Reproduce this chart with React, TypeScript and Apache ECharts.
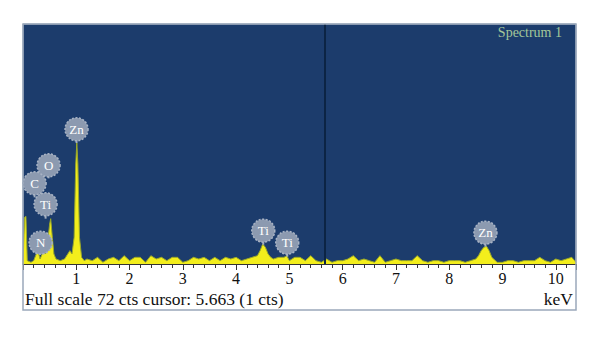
import React, { useEffect, useRef } from "react";
import * as echarts from "echarts";

// EDS spectrum: [keV, counts]
const spectrum: [number, number][] = [
  [0.0, 0], [0.03, 14], [0.055, 14.3], [0.08, 1], [0.15, 0.5], [0.2, 1], [0.25, 3], [0.28, 4],
  [0.32, 1.5], [0.36, 3], [0.39, 5.5], [0.42, 3], [0.46, 6], [0.5, 12], [0.52, 13.6], [0.55, 8],
  [0.58, 3], [0.62, 1.5], [0.7, 1], [0.78, 1.5], [0.84, 3], [0.88, 4], [0.92, 3], [0.96, 8],
  [0.99, 30], [1.01, 36.3], [1.03, 30], [1.06, 8], [1.1, 2], [1.15, 1], [1.2, 1.5], [1.3, 1],
  [1.4, 2], [1.5, 0.5], [1.6, 1.5], [1.7, 2], [1.8, 1], [1.9, 2.5], [2.0, 1], [2.1, 2],
  [2.2, 2], [2.3, 0.5], [2.4, 2.5], [2.5, 1.5], [2.6, 2], [2.7, 1], [2.8, 2], [2.9, 2],
  [3.0, 0.5], [3.1, 1], [3.2, 2], [3.3, 1.5], [3.4, 2], [3.5, 1], [3.6, 2], [3.7, 1],
  [3.8, 2], [3.9, 1.5], [4.0, 2], [4.1, 1], [4.2, 1.5], [4.3, 2], [4.4, 2.5], [4.45, 4],
  [4.5, 6], [4.55, 5], [4.6, 3], [4.65, 2], [4.7, 1.5], [4.8, 2], [4.9, 2], [4.95, 2.5],
  [5.0, 1], [5.1, 2], [5.2, 2], [5.3, 1], [5.4, 2.5], [5.5, 1], [5.6, 0.5], [5.7, 1.5],
  [5.8, 0.5], [5.9, 1], [6.0, 1], [6.1, 1.5], [6.2, 2.5], [6.3, 1], [6.4, 1.5], [6.5, 1],
  [6.6, 0.5], [6.7, 2.5], [6.8, 0.5], [6.9, 1], [7.0, 1.5], [7.1, 1], [7.2, 1], [7.3, 1],
  [7.4, 2.5], [7.5, 1], [7.6, 0.5], [7.7, 1], [7.8, 1], [7.9, 0.5], [8.0, 1], [8.1, 1],
  [8.2, 1], [8.3, 0.5], [8.4, 1], [8.5, 1.5], [8.55, 2.5], [8.6, 4], [8.65, 5], [8.7, 5.3],
  [8.75, 4], [8.8, 2], [8.9, 0.5], [9.0, 0.5], [9.1, 1], [9.2, 1], [9.3, 0.5], [9.4, 1],
  [9.5, 1], [9.6, 1], [9.7, 2], [9.8, 1], [9.9, 0.5], [10.0, 1.5], [10.1, 1], [10.2, 1.5],
  [10.3, 2], [10.38, 0.5],
];

const labelNames = ["C", "O", "Ti", "N", "Zn", "Ti", "Ti", "Zn"];
const labelKeV = [0.218, 0.48, 0.424, 0.33, 1.005, 4.51, 4.96, 8.68];
const labelCts = [24.2, 29.6, 17.9, 6.4, 40.4, 10.0, 6.4, 9.4];
const stemEndCts = [20, 25.7, 13.6, 4, 36.3, 5.8, 2.2, 5.2];

const cursorKeV = 5.663;
const xMin = 0;
const xMax = 10.38;
const yMax = 72;
const bottomText = "Full scale 72 cts cursor: 5.663 (1 cts)";
const spectrumTitle = "Spectrum 1";
const unitText = "keV";

const SERIF = '"Liberation Serif", "DejaVu Serif", serif';

export default function App() {
  const ref = useRef<HTMLDivElement>(null);
  useEffect(() => {
    if (!ref.current) return;
    const chart = echarts.init(ref.current, undefined, { renderer: "svg" });
    const labelData = labelNames.map((n, i) => [labelKeV[i], labelCts[i], stemEndCts[i], i]);
    chart.setOption({
      animation: false,
      backgroundColor: "#ffffff",
      grid: {
        left: 23,
        right: 24,
        top: 24,
        bottom: 73,
        show: true,
        backgroundColor: "#1c3c6c",
        borderColor: "#9aa8bb",
        borderWidth: 1,
      },
      xAxis: {
        type: "value",
        min: xMin,
        max: xMax,
        interval: 1,
        splitLine: { show: false },
        axisLine: { show: true, lineStyle: { color: "#333", width: 1 } },
        axisTick: { show: true, length: 6, lineStyle: { color: "#333" } },
        minorTick: { show: true, splitNumber: 5, length: 4, lineStyle: { color: "#333" } },
        axisLabel: {
          show: true,
          margin: 6,
          color: "#111",
          fontFamily: SERIF,
          fontSize: 16,
          lineHeight: 16,
          formatter: (v: number) => (v === 0 ? "" : String(v)),
          showMaxLabel: false,
        },
      },
      yAxis: {
        type: "value",
        min: 0,
        max: yMax,
        show: false,
        splitLine: { show: false },
      },
      graphic: [
        {
          type: "rect",
          shape: { x: 23, y: 24, width: 553, height: 286 },
          style: { fill: "none", stroke: "#9aa8bb", lineWidth: 1.5 },
          z: 100,
        },
        {
          type: "text",
          left: 25,
          top: 290,
          style: { text: bottomText, font: `17.5px ${SERIF}`, fill: "#111" },
        },
        {
          type: "text",
          right: 27,
          top: 290,
          style: { text: unitText, font: `17.5px ${SERIF}`, fill: "#111" },
        },
        {
          type: "text",
          right: 38,
          top: 25,
          style: { text: spectrumTitle, font: `14px ${SERIF}`, fill: "#a3c79a" },
        },
      ],
      series: [
        {
          type: "line",
          data: spectrum,
          symbol: "none",
          lineStyle: { color: "#9aa82a", width: 1 },
          areaStyle: { color: "#f3ee1c", opacity: 1 },
          z: 3,
          markLine: {
            silent: true,
            symbol: "none",
            label: { show: false },
            lineStyle: { color: "#0c2444", width: 2, type: "solid" },
            data: [{ xAxis: cursorKeV }],
          },
        },
        {
          type: "custom",
          data: labelData,
          z: 5,
          renderItem: (params: any, api: any) => {
            const c = api.coord([api.value(0), api.value(1)]);
            const p = api.coord([api.value(0), api.value(2)]);
            const idx = params.dataIndex;
            return {
              type: "group",
              children: [
                {
                  type: "line",
                  shape: { x1: c[0], y1: c[1], x2: p[0], y2: p[1] },
                  style: { stroke: "#a4afc0", lineWidth: 2 },
                },
                {
                  type: "circle",
                  shape: { cx: c[0], cy: c[1], r: 11.5 },
                  style: { fill: "#8c9ab0", stroke: "#a8b3c4", lineWidth: 1.5, lineDash: [2, 1.5] },
                },
                {
                  type: "text",
                  style: {
                    x: c[0],
                    y: c[1],
                    text: labelNames[idx],
                    align: "center",
                    verticalAlign: "middle",
                    fill: "#ffffff",
                    font: `13px ${SERIF}`,
                  },
                },
              ],
            };
          },
        },
      ],
    });
    return () => chart.dispose();
  }, []);
  return <div ref={ref} style={{ width: 600, height: 337, position: "absolute", left: 0, top: 0 }} />;
}
